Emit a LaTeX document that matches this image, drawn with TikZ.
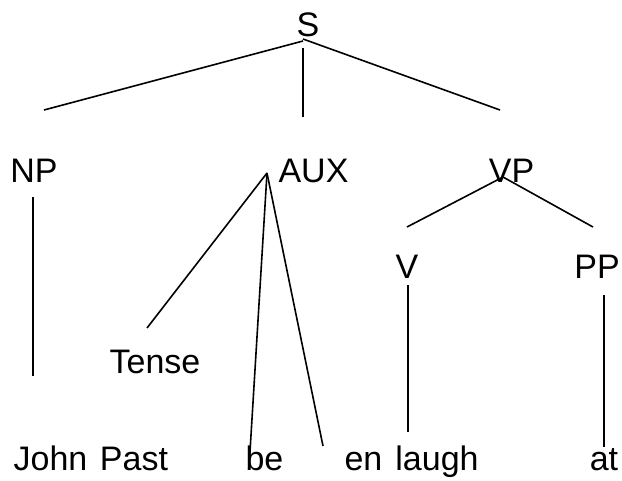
\documentclass[tikz,border=0pt]{standalone}
\usepackage{fontspec}
\setmainfont{Liberation Sans}
\begin{document}
\begin{tikzpicture}[x=1pt,y=-1pt,
  lbl/.style={anchor=base,inner sep=0pt,font=\fontsize{34}{40}\selectfont},
  branch/.style={draw=black,line width=1.6pt}]
\useasboundingbox[fill=white] (0,0) rectangle (622,480);

% category labels
\node[lbl] (S)     at (308,36)  {S};
\node[lbl] (NP)    at (34,182)  {NP};
\node[lbl] (AUX)   at (313.5,182) {AUX};
\node[lbl] (VP)    at (511.5,182) {VP};
\node[lbl] (V)     at (407,278) {V};
\node[lbl,anchor=base east] (PP) at (620,278) {PP};
\node[lbl] (Tense) at (155,373) {Tense};

% terminal words
\node[lbl] (John)  at (50.5,470) {John};
\node[lbl] (Past)  at (134,470)  {Past};
\node[lbl] (be)    at (264.5,470) {be};
\node[lbl] (en)    at (363.5,470) {en};
\node[lbl] (laugh) at (437,470)  {laugh};
\node[lbl] (at)    at (604,470) {at};

% branch end points
\coordinate (sL)   at (303,41);
\coordinate (sM)   at (303,48);
\coordinate (sR)   at (303,39);
\coordinate (npT)  at (44,110);
\coordinate (auxT) at (303,117);
\coordinate (vpT)  at (500,110);
\coordinate (npB)  at (33,197);
\coordinate (johnT) at (33,376);
\coordinate (auxA) at (267,173);
\coordinate (tenseT) at (147,328);
\coordinate (beT)  at (249,468);
\coordinate (enT)  at (323,446);
\coordinate (vpA)  at (503,177);
\coordinate (vT)   at (407,227);
\coordinate (ppT)  at (593,227);
\coordinate (vB)   at (408,285);
\coordinate (laughT) at (408,432);
\coordinate (ppB)  at (604,295);
\coordinate (atT)  at (604,447);

% branches
\draw[branch] (sL) -- (npT);
\draw[branch] (sM) -- (auxT);
\draw[branch] (sR) -- (vpT);
\draw[branch] (npB) -- (johnT);
\draw[branch] (auxA) -- (tenseT);
\draw[branch] (auxA) -- (beT);
\draw[branch] (auxA) -- (enT);
\draw[branch] (vpA) -- (vT);
\draw[branch] (vpA) -- (ppT);
\draw[branch] (vB) -- (laughT);
\draw[branch] (ppB) -- (atT);
\end{tikzpicture}
\end{document}
